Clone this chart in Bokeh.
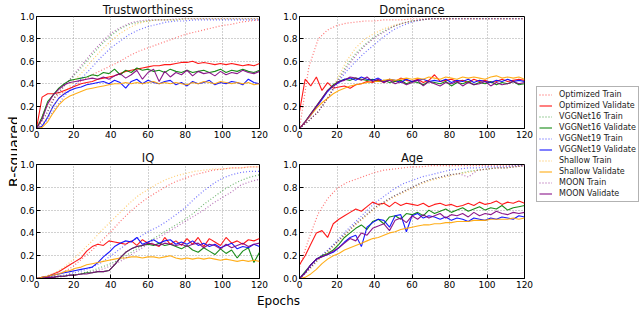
from math import pi
from bokeh.plotting import figure
from bokeh.layouts import row, column
from bokeh.models import (Range1d, FixedTicker, PrintfTickFormatter, Label,
                          Legend, LegendItem)
from bokeh.embed import file_html
from bokeh.resources import INLINE

# ---------------- data ----------------
EPOCHS_TRAIN = [0, 5, 10, 15, 20, 25, 30, 35, 40, 45, 50, 55, 60, 65, 70, 75,
                80, 85, 90, 95, 100, 105, 110, 115, 120]
EPOCHS_VAL = [0, 3, 6, 9, 12, 15, 18, 21, 24, 27, 30, 33, 36, 39, 42, 45, 48,
              51, 54, 57, 60, 63, 66, 69, 72, 75, 78, 81, 84, 87, 90, 93, 96,
              99, 102, 105, 108, 111, 114, 117, 120]
X_TICKS = [0, 20, 40, 60, 80, 100, 120]
Y_TICKS = [0.0, 0.2, 0.4, 0.6, 0.8, 1.0]
MODELS = ["Optimized", "VGGNet16", "VGGNet19", "Shallow", "MOON"]
COLORS = ["red", "green", "blue", "orange", "purple"]
TITLES = ["Trustworthiness", "Dominance", "IQ", "Age"]

# Trustworthiness
tr_opt_train = [0.00, 0.18, 0.28, 0.33, 0.38, 0.43, 0.48, 0.52, 0.56, 0.60, 0.65, 0.69, 0.72, 0.75, 0.78, 0.81, 0.84, 0.86, 0.88, 0.90, 0.92, 0.93, 0.95, 0.96, 0.97]
tr_v16_train = [0.00, 0.12, 0.29, 0.38, 0.47, 0.56, 0.66, 0.75, 0.83, 0.89, 0.93, 0.95, 0.96, 0.97, 0.97, 0.97, 0.98, 0.98, 0.98, 0.98, 0.98, 0.98, 0.98, 0.98, 0.98]
tr_v19_train = [0.00, 0.06, 0.18, 0.29, 0.38, 0.46, 0.55, 0.64, 0.72, 0.78, 0.84, 0.88, 0.91, 0.93, 0.95, 0.96, 0.96, 0.97, 0.97, 0.97, 0.97, 0.97, 0.97, 0.97, 0.97]
tr_sh_train = [0.00, 0.08, 0.22, 0.32, 0.42, 0.51, 0.61, 0.70, 0.78, 0.85, 0.90, 0.94, 0.96, 0.97, 0.97, 0.97, 0.98, 0.98, 0.98, 0.98, 0.98, 0.98, 0.98, 0.98, 0.98]
tr_moon_train = [0.00, 0.12, 0.28, 0.38, 0.48, 0.58, 0.68, 0.77, 0.85, 0.90, 0.94, 0.96, 0.97, 0.97, 0.97, 0.98, 0.98, 0.98, 0.98, 0.98, 0.98, 0.98, 0.98, 0.98, 0.98]
tr_opt_val = [0.00, 0.28, 0.31, 0.31, 0.32, 0.34, 0.36, 0.38, 0.40, 0.41, 0.42, 0.44, 0.45, 0.46, 0.47, 0.49, 0.51, 0.52, 0.53, 0.54, 0.55, 0.56, 0.56, 0.57, 0.57, 0.58, 0.59, 0.59, 0.60, 0.58, 0.59, 0.58, 0.57, 0.58, 0.57, 0.58, 0.57, 0.56, 0.57, 0.56, 0.58]
tr_v16_val = [0.00, 0.10, 0.24, 0.30, 0.36, 0.40, 0.43, 0.44, 0.45, 0.46, 0.48, 0.47, 0.50, 0.49, 0.53, 0.48, 0.52, 0.50, 0.54, 0.52, 0.53, 0.51, 0.52, 0.50, 0.53, 0.51, 0.50, 0.52, 0.50, 0.51, 0.52, 0.50, 0.51, 0.53, 0.50, 0.52, 0.51, 0.53, 0.51, 0.50, 0.52]
tr_v19_val = [0.00, 0.02, 0.10, 0.20, 0.27, 0.31, 0.34, 0.36, 0.37, 0.39, 0.40, 0.41, 0.42, 0.40, 0.43, 0.41, 0.36, 0.42, 0.44, 0.40, 0.43, 0.41, 0.40, 0.42, 0.43, 0.39, 0.41, 0.38, 0.42, 0.40, 0.41, 0.43, 0.39, 0.41, 0.40, 0.42, 0.41, 0.39, 0.44, 0.41, 0.40]
tr_sh_val = [0.00, 0.01, 0.06, 0.14, 0.21, 0.26, 0.29, 0.31, 0.33, 0.35, 0.36, 0.37, 0.38, 0.39, 0.40, 0.40, 0.41, 0.40, 0.41, 0.40, 0.41, 0.42, 0.40, 0.41, 0.40, 0.41, 0.40, 0.39, 0.41, 0.40, 0.42, 0.41, 0.40, 0.42, 0.41, 0.40, 0.41, 0.40, 0.41, 0.39, 0.40]
tr_moon_val = [0.00, 0.08, 0.22, 0.30, 0.35, 0.39, 0.41, 0.42, 0.43, 0.44, 0.45, 0.44, 0.46, 0.44, 0.47, 0.49, 0.45, 0.48, 0.52, 0.44, 0.50, 0.53, 0.42, 0.51, 0.46, 0.50, 0.48, 0.52, 0.47, 0.51, 0.49, 0.50, 0.47, 0.51, 0.48, 0.50, 0.49, 0.52, 0.50, 0.49, 0.51]

# Dominance
dm_opt_train = [0.00, 0.55, 0.80, 0.88, 0.92, 0.94, 0.95, 0.96, 0.96, 0.97, 0.97, 0.97, 0.98, 0.98, 0.98, 0.98, 0.98, 0.98, 0.98, 0.98, 0.98, 0.98, 0.98, 0.98, 0.98]
dm_v16_train = [0.00, 0.07, 0.15, 0.27, 0.42, 0.56, 0.67, 0.75, 0.82, 0.87, 0.91, 0.94, 0.96, 0.97, 0.98, 0.98, 0.98, 0.98, 0.98, 0.98, 0.98, 0.98, 0.98, 0.98, 0.98]
dm_v19_train = [0.00, 0.07, 0.15, 0.27, 0.40, 0.51, 0.60, 0.68, 0.75, 0.82, 0.88, 0.92, 0.95, 0.97, 0.98, 0.98, 0.98, 0.98, 0.98, 0.98, 0.98, 0.98, 0.98, 0.98, 0.98]
dm_sh_train = [0.00, 0.07, 0.15, 0.27, 0.44, 0.60, 0.72, 0.80, 0.85, 0.89, 0.92, 0.94, 0.96, 0.97, 0.98, 0.98, 0.98, 0.98, 0.98, 0.98, 0.98, 0.98, 0.98, 0.98, 0.98]
dm_moon_train = [0.00, 0.07, 0.15, 0.27, 0.41, 0.54, 0.65, 0.74, 0.81, 0.86, 0.91, 0.94, 0.96, 0.97, 0.98, 0.98, 0.98, 0.98, 0.98, 0.98, 0.98, 0.98, 0.98, 0.98, 0.98]
dm_opt_val = [0.15, 0.44, 0.38, 0.46, 0.34, 0.41, 0.36, 0.37, 0.38, 0.36, 0.39, 0.40, 0.42, 0.41, 0.43, 0.41, 0.44, 0.42, 0.45, 0.43, 0.42, 0.44, 0.41, 0.43, 0.48, 0.42, 0.43, 0.44, 0.42, 0.43, 0.41, 0.44, 0.42, 0.43, 0.41, 0.42, 0.44, 0.42, 0.43, 0.44, 0.43]
dm_v16_val = [0.00, 0.06, 0.13, 0.20, 0.27, 0.34, 0.39, 0.42, 0.44, 0.43, 0.45, 0.44, 0.43, 0.44, 0.42, 0.43, 0.41, 0.42, 0.43, 0.40, 0.42, 0.41, 0.39, 0.42, 0.41, 0.40, 0.42, 0.38, 0.41, 0.40, 0.42, 0.39, 0.41, 0.40, 0.42, 0.39, 0.41, 0.40, 0.42, 0.39, 0.40]
dm_v19_val = [0.00, 0.06, 0.12, 0.19, 0.26, 0.33, 0.38, 0.41, 0.44, 0.45, 0.43, 0.46, 0.44, 0.43, 0.45, 0.42, 0.44, 0.43, 0.41, 0.44, 0.42, 0.43, 0.44, 0.42, 0.43, 0.42, 0.44, 0.41, 0.43, 0.42, 0.44, 0.41, 0.43, 0.42, 0.41, 0.43, 0.42, 0.44, 0.42, 0.43, 0.42]
dm_sh_val = [0.00, 0.06, 0.12, 0.18, 0.23, 0.27, 0.31, 0.34, 0.36, 0.38, 0.39, 0.40, 0.41, 0.42, 0.42, 0.43, 0.44, 0.43, 0.44, 0.45, 0.44, 0.45, 0.44, 0.46, 0.45, 0.44, 0.46, 0.45, 0.44, 0.46, 0.45, 0.46, 0.45, 0.44, 0.46, 0.47, 0.45, 0.46, 0.45, 0.46, 0.44]
dm_moon_val = [0.00, 0.06, 0.13, 0.20, 0.27, 0.34, 0.38, 0.42, 0.43, 0.46, 0.45, 0.43, 0.46, 0.42, 0.44, 0.41, 0.43, 0.40, 0.42, 0.39, 0.41, 0.43, 0.38, 0.42, 0.40, 0.38, 0.41, 0.40, 0.42, 0.38, 0.41, 0.39, 0.40, 0.42, 0.38, 0.41, 0.39, 0.40, 0.42, 0.40, 0.41]

# IQ
iq_opt_train = [0.00, 0.01, 0.03, 0.06, 0.11, 0.18, 0.25, 0.33, 0.41, 0.50, 0.58, 0.65, 0.71, 0.76, 0.81, 0.85, 0.88, 0.91, 0.93, 0.95, 0.96, 0.97, 0.97, 0.98, 0.98]
iq_v16_train = [0.00, 0.01, 0.01, 0.02, 0.03, 0.05, 0.07, 0.10, 0.13, 0.17, 0.22, 0.27, 0.32, 0.37, 0.42, 0.47, 0.52, 0.58, 0.65, 0.71, 0.77, 0.82, 0.86, 0.89, 0.91]
iq_v19_train = [0.00, 0.01, 0.02, 0.03, 0.05, 0.07, 0.10, 0.14, 0.20, 0.26, 0.32, 0.36, 0.41, 0.45, 0.50, 0.56, 0.62, 0.70, 0.77, 0.83, 0.88, 0.91, 0.93, 0.94, 0.94]
iq_sh_train = [0.00, 0.02, 0.05, 0.10, 0.17, 0.25, 0.33, 0.42, 0.50, 0.58, 0.66, 0.73, 0.78, 0.83, 0.87, 0.90, 0.92, 0.94, 0.95, 0.96, 0.96, 0.97, 0.97, 0.98, 0.98]
iq_moon_train = [0.00, 0.01, 0.01, 0.02, 0.03, 0.04, 0.06, 0.08, 0.11, 0.15, 0.20, 0.25, 0.30, 0.35, 0.40, 0.45, 0.50, 0.55, 0.60, 0.66, 0.71, 0.76, 0.82, 0.85, 0.87]
iq_opt_val = [0.00, 0.01, 0.02, 0.04, 0.06, 0.09, 0.12, 0.15, 0.18, 0.24, 0.28, 0.30, 0.29, 0.33, 0.32, 0.31, 0.30, 0.33, 0.29, 0.34, 0.31, 0.30, 0.28, 0.36, 0.30, 0.33, 0.29, 0.35, 0.30, 0.36, 0.28, 0.35, 0.32, 0.29, 0.36, 0.31, 0.33, 0.30, 0.34, 0.33, 0.35]
iq_v16_val = [0.00, 0.00, 0.01, 0.01, 0.02, 0.02, 0.03, 0.03, 0.04, 0.05, 0.05, 0.06, 0.06, 0.07, 0.12, 0.18, 0.23, 0.26, 0.28, 0.29, 0.30, 0.29, 0.31, 0.29, 0.30, 0.28, 0.26, 0.29, 0.25, 0.23, 0.27, 0.24, 0.21, 0.26, 0.22, 0.25, 0.18, 0.24, 0.27, 0.14, 0.23]
iq_v19_val = [0.00, 0.01, 0.02, 0.03, 0.04, 0.05, 0.06, 0.07, 0.08, 0.09, 0.10, 0.14, 0.19, 0.23, 0.28, 0.31, 0.33, 0.32, 0.36, 0.30, 0.32, 0.34, 0.31, 0.33, 0.34, 0.30, 0.32, 0.30, 0.33, 0.29, 0.31, 0.28, 0.30, 0.27, 0.29, 0.31, 0.26, 0.28, 0.27, 0.30, 0.28]
iq_sh_val = [0.00, 0.01, 0.02, 0.03, 0.04, 0.06, 0.07, 0.09, 0.10, 0.12, 0.13, 0.14, 0.15, 0.16, 0.17, 0.18, 0.18, 0.19, 0.19, 0.18, 0.19, 0.19, 0.18, 0.19, 0.20, 0.18, 0.17, 0.18, 0.17, 0.18, 0.17, 0.18, 0.17, 0.16, 0.17, 0.16, 0.15, 0.16, 0.15, 0.16, 0.15]
iq_moon_val = [0.00, 0.00, 0.01, 0.01, 0.02, 0.02, 0.03, 0.03, 0.04, 0.04, 0.05, 0.06, 0.06, 0.07, 0.12, 0.18, 0.23, 0.26, 0.28, 0.29, 0.31, 0.30, 0.29, 0.31, 0.30, 0.29, 0.30, 0.28, 0.30, 0.31, 0.27, 0.30, 0.29, 0.26, 0.30, 0.27, 0.29, 0.31, 0.28, 0.30, 0.31]

# Age
ag_opt_train = [0.10, 0.35, 0.57, 0.70, 0.79, 0.84, 0.87, 0.90, 0.93, 0.95, 0.96, 0.97, 0.98, 0.98, 0.99, 0.99, 0.99, 0.99, 0.99, 0.99, 0.99, 0.99, 0.99, 0.99, 0.99]
ag_v16_train = [0.00, 0.08, 0.17, 0.24, 0.32, 0.40, 0.48, 0.55, 0.62, 0.67, 0.72, 0.76, 0.80, 0.84, 0.87, 0.89, 0.91, 0.92, 0.94, 0.95, 0.96, 0.97, 0.97, 0.98, 0.99]
ag_v19_train = [0.00, 0.08, 0.18, 0.25, 0.33, 0.42, 0.50, 0.58, 0.66, 0.72, 0.78, 0.83, 0.86, 0.89, 0.91, 0.93, 0.95, 0.96, 0.97, 0.97, 0.98, 0.98, 0.98, 0.99, 0.99]
ag_sh_train = [0.00, 0.07, 0.16, 0.23, 0.31, 0.39, 0.47, 0.54, 0.61, 0.66, 0.71, 0.75, 0.79, 0.83, 0.86, 0.88, 0.90, 0.92, 0.93, 0.95, 0.96, 0.97, 0.97, 0.98, 0.99]
ag_moon_train = [0.00, 0.08, 0.17, 0.24, 0.32, 0.40, 0.48, 0.55, 0.62, 0.67, 0.72, 0.76, 0.80, 0.84, 0.87, 0.89, 0.91, 0.92, 0.89, 0.95, 0.96, 0.97, 0.97, 0.98, 0.99]
ag_opt_val = [0.12, 0.20, 0.30, 0.40, 0.42, 0.36, 0.48, 0.52, 0.55, 0.58, 0.61, 0.59, 0.63, 0.67, 0.65, 0.66, 0.63, 0.67, 0.64, 0.66, 0.65, 0.64, 0.66, 0.63, 0.65, 0.66, 0.64, 0.65, 0.63, 0.64, 0.66, 0.64, 0.67, 0.65, 0.66, 0.68, 0.65, 0.67, 0.66, 0.68, 0.66]
ag_v16_val = [0.00, 0.06, 0.12, 0.17, 0.20, 0.22, 0.25, 0.30, 0.36, 0.40, 0.44, 0.47, 0.43, 0.50, 0.52, 0.48, 0.54, 0.55, 0.52, 0.57, 0.56, 0.58, 0.55, 0.60, 0.57, 0.59, 0.61, 0.58, 0.60, 0.62, 0.59, 0.61, 0.63, 0.60, 0.62, 0.61, 0.64, 0.60, 0.62, 0.63, 0.64]
ag_v19_val = [0.00, 0.05, 0.12, 0.17, 0.19, 0.21, 0.23, 0.27, 0.32, 0.36, 0.38, 0.28, 0.45, 0.49, 0.52, 0.51, 0.45, 0.55, 0.56, 0.41, 0.55, 0.57, 0.53, 0.55, 0.54, 0.52, 0.54, 0.51, 0.53, 0.52, 0.50, 0.53, 0.52, 0.51, 0.53, 0.52, 0.54, 0.53, 0.52, 0.55, 0.54]
ag_sh_val = [0.00, 0.01, 0.04, 0.08, 0.13, 0.17, 0.20, 0.22, 0.25, 0.27, 0.29, 0.31, 0.33, 0.35, 0.36, 0.38, 0.40, 0.41, 0.43, 0.44, 0.45, 0.46, 0.47, 0.47, 0.48, 0.48, 0.49, 0.49, 0.50, 0.50, 0.50, 0.51, 0.51, 0.51, 0.52, 0.52, 0.52, 0.52, 0.53, 0.52, 0.53]
ag_moon_val = [0.00, 0.05, 0.12, 0.17, 0.19, 0.21, 0.24, 0.27, 0.31, 0.35, 0.33, 0.40, 0.38, 0.44, 0.46, 0.48, 0.42, 0.51, 0.53, 0.49, 0.55, 0.52, 0.56, 0.53, 0.55, 0.57, 0.53, 0.56, 0.55, 0.57, 0.54, 0.58, 0.55, 0.57, 0.56, 0.59, 0.57, 0.56, 0.58, 0.57, 0.58]

TRAIN_SETS = [
    [tr_opt_train, tr_v16_train, tr_v19_train, tr_sh_train, tr_moon_train],
    [dm_opt_train, dm_v16_train, dm_v19_train, dm_sh_train, dm_moon_train],
    [iq_opt_train, iq_v16_train, iq_v19_train, iq_sh_train, iq_moon_train],
    [ag_opt_train, ag_v16_train, ag_v19_train, ag_sh_train, ag_moon_train],
]
VAL_SETS = [
    [tr_opt_val, tr_v16_val, tr_v19_val, tr_sh_val, tr_moon_val],
    [dm_opt_val, dm_v16_val, dm_v19_val, dm_sh_val, dm_moon_val],
    [iq_opt_val, iq_v16_val, iq_v19_val, iq_sh_val, iq_moon_val],
    [ag_opt_val, ag_v16_val, ag_v19_val, ag_sh_val, ag_moon_val],
]
for k in range(4):
    for j in range(5):
        if len(TRAIN_SETS[k][j]) != len(EPOCHS_TRAIN):
            raise ValueError("train length %d %d" % (k, j))
        if len(VAL_SETS[k][j]) != len(EPOCHS_VAL):
            raise ValueError("val length %d %d" % (k, j))

FONT = "DejaVu Sans"
TRAIN_DASH = "1 2"


def panel(title, trains, vals, fw, fh, left, right, top, bottom):
    p = figure(frame_width=fw, frame_height=fh, x_range=Range1d(0, 120),
               y_range=Range1d(0, 1), output_backend="svg",
               toolbar_location=None, min_border_left=left,
               min_border_right=right, min_border_top=top,
               min_border_bottom=bottom, title=title)
    p.title.align = "center"
    p.title.text_font = FONT
    p.title.text_font_size = "11.5px"
    p.title.text_font_style = "normal"
    p.title.text_color = "#111111"
    p.title.standoff = 0
    p.title.offset = 0
    p.background_fill_color = "white"
    p.border_fill_color = "white"
    p.outline_line_color = "black"
    p.outline_line_alpha = 1.0
    p.outline_line_width = 1
    p.xaxis.ticker = FixedTicker(ticks=X_TICKS)
    p.yaxis.ticker = FixedTicker(ticks=Y_TICKS)
    p.yaxis.formatter = PrintfTickFormatter(format="%.1f")
    for ax in p.axis:
        ax.axis_line_color = "black"
        ax.major_tick_line_color = "black"
        ax.major_tick_in = 4
        ax.major_tick_out = 0
        ax.minor_tick_line_color = None
        ax.major_label_text_font = FONT
        ax.major_label_text_font_size = "9px"
        ax.major_label_text_color = "black"
        ax.major_label_standoff = 2
    p.grid.grid_line_color = "#8a8a8a"
    p.grid.grid_line_dash = "1 2"
    p.grid.grid_line_width = 0.8
    for i in range(5):
        p.line(EPOCHS_TRAIN, trains[i], line_color=COLORS[i], line_width=1.2,
               line_alpha=0.55, line_dash=TRAIN_DASH)
        p.line(EPOCHS_VAL, vals[i], line_color=COLORS[i], line_width=1.1,
               line_alpha=0.9)
    return p


YLAB_W = 17
# top row frames start near y 16 ; bottom row frames span y 164..278
tl = panel(TITLES[0], TRAIN_SETS[0], VAL_SETS[0], 223, 112, 18, 12, 14, 19)
tr = panel(TITLES[1], TRAIN_SETS[1], VAL_SETS[1], 225, 112, 28, 10, 14, 19)
bl = panel(TITLES[2], TRAIN_SETS[2], VAL_SETS[2], 223, 114, 18, 12, 17, 14)
br = panel(TITLES[3], TRAIN_SETS[3], VAL_SETS[3], 225, 114, 28, 10, 17, 14)


def blank(width, height, xr=None):
    f = figure(width=width, height=height,
               x_range=xr if xr is not None else Range1d(0, width),
               y_range=Range1d(0, height), output_backend="svg",
               toolbar_location=None, x_axis_type=None, y_axis_type=None,
               min_border=0)
    f.outline_line_color = None
    f.background_fill_color = "white"
    f.border_fill_color = "white"
    return f


TOTAL_H = 310
ylab = blank(YLAB_W, TOTAL_H)
ylab.add_layout(Label(x=13.3, y=TOTAL_H - 151, text="R-squared", angle=pi / 2,
                      text_align="center", text_baseline="alphabetic",
                      text_font=FONT, text_font_size="14px",
                      text_color="black"))

xlab = blank(253 + 263, 18)
xlab.add_layout(Label(x=278 - YLAB_W, y=10, text="Epochs", text_align="center",
                      text_baseline="middle", text_font=FONT,
                      text_font_size="12px", text_color="black"))

# legend panel: its x range lies away from the data, so only the legend shows
leg = blank(105, TOTAL_H, xr=Range1d(-20, -10))
items = []
for i, m in enumerate(MODELS):
    r1 = leg.line(EPOCHS_TRAIN, TRAIN_SETS[0][i], line_color=COLORS[i],
                  line_width=1.5, line_alpha=0.5, line_dash=TRAIN_DASH)
    r2 = leg.line(EPOCHS_VAL, VAL_SETS[0][i], line_color=COLORS[i],
                  line_width=2, line_alpha=0.5)
    items.append(LegendItem(label=m + " Train", renderers=[r1]))
    items.append(LegendItem(label=m + " Validate", renderers=[r2]))
legend = Legend(items=items, location=(2, TOTAL_H - 202), padding=2, margin=0,
                spacing=0, glyph_width=13, glyph_height=11, label_height=11,
                label_standoff=7, label_text_font=FONT,
                label_text_font_size="8px", label_text_color="#222222",
                border_line_color="#666666", border_line_width=1,
                background_fill_color="white", background_fill_alpha=1.0)
leg.add_layout(legend)

layout = row(ylab, column(row(tl, tr), row(bl, br), xlab), leg)

open("out.html", "w").write(file_html(layout, INLINE))
